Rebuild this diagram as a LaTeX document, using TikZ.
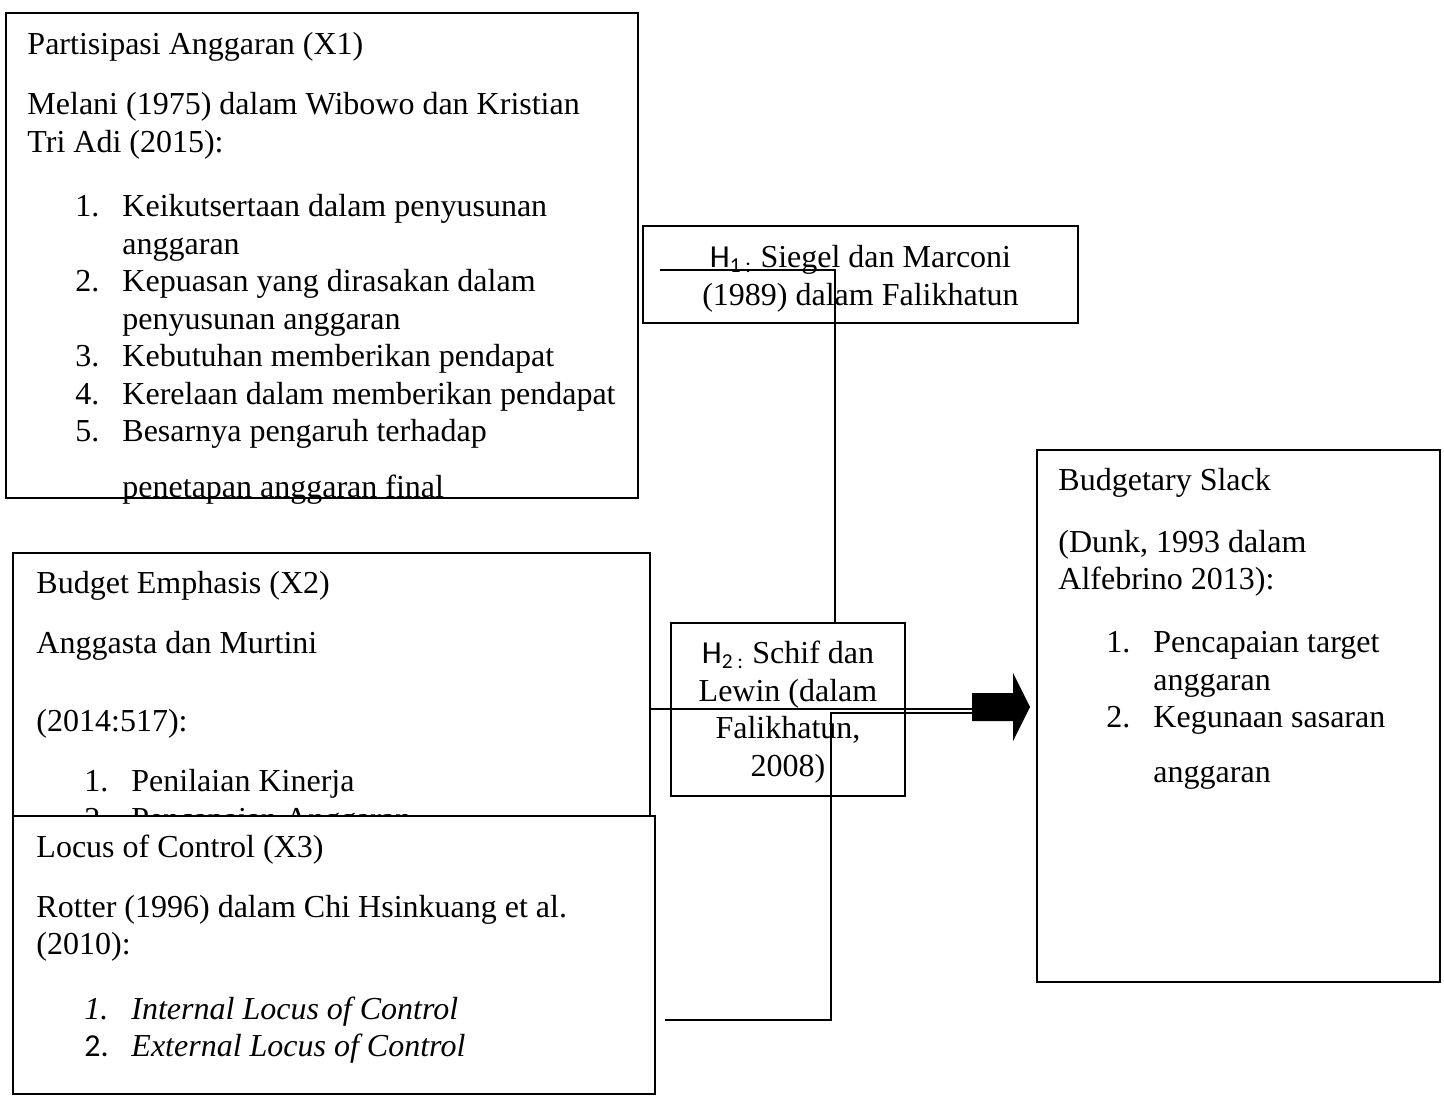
\documentclass[tikz,border=0pt]{standalone}
\usepackage{fontspec}
\setmainfont{Liberation Serif}
\newfontfamily\calibrifont{Carlito}
\usetikzlibrary{fit,positioning}
\newcommand{\numitem}[2]{\hspace*{18pt}\makebox[17.625pt][l]{#1}#2}
\newcommand{\contline}[1]{\hspace*{35.625pt}#1}
\begin{document}
\begin{tikzpicture}[x=0.375pt, y=-0.375pt,
  box/.style={draw, line width=0.8pt, inner sep=0pt, fill=white},
  txt/.style={inner sep=0pt, text width=250pt, align=flush left, font=\fontsize{12}{14.06}\selectfont},
  hyp/.style={inner sep=0pt, align=flush center, font=\fontsize{12}{14.06}\selectfont},
  conn/.style={line width=0.5pt}]
\useasboundingbox (0,0) rectangle (1444,1097);

% variabel X1
\node[box, fit={(6,13) (638,498)}] (x1box) {};
\node[txt, anchor=base west] (x1text) at ([shift={(22,43)}]x1box.north west)
  {Partisipasi Anggaran (X1)\\[8.4pt]
   Melani (1975) dalam Wibowo dan Kristian\\
   Tri Adi (2015):\\[10.1pt]
   \numitem{1.}{Keikutsertaan dalam penyusunan}\\
   \contline{anggaran}\\
   \numitem{2.}{Kepuasan yang dirasakan dalam}\\
   \contline{penyusunan anggaran}\\
   \numitem{3.}{Kebutuhan memberikan pendapat}\\
   \numitem{4.}{Kerelaan dalam memberikan pendapat}\\
   \numitem{5.}{Besarnya pengaruh terhadap}\\[6.9pt]
   \contline{penetapan anggaran final}};

% variabel X2
\node[box, fit={(13,553) (650,900)}] (x2box) {};
\node[txt, anchor=base west] (x2text) at ([shift={(24,42)}]x2box.north west)
  {Budget Emphasis (X2)\\[8.25pt]
   Anggasta dan Murtini\\[15.2pt]
   (2014:517):\\[8.6pt]
   \numitem{1.}{Penilaian Kinerja}\\
   \numitem{2.}{Pencapaian Anggaran}};

% variabel X3
\node[box, fit={(13,816) (655,1094)}] (x3box) {};
\node[txt, anchor=base west] (x3text) at ([shift={(24,43)}]x3box.north west)
  {Locus of Control (X3)\\[8.25pt]
   Rotter (1996) dalam Chi Hsinkuang et al.\\
   (2010):\\[10.1pt]
   \numitem{\textit{1.}}{\textit{Internal Locus of Control}}\\
   \numitem{{\calibrifont 2.}}{\textit{External Locus of Control}}};

% variabel Y
\node[box, fit={(1037,450) (1440,982)}] (ybox) {};
\node[txt, anchor=base west] (ytext) at ([shift={(22,42)}]ybox.north west)
  {Budgetary Slack\\[9pt]
   (Dunk, 1993 dalam\\
   Alfebrino 2013):\\[9.5pt]
   \numitem{1.}{Pencapaian target}\\
   \contline{anggaran}\\
   \numitem{2.}{Kegunaan sasaran}\\[6.6pt]
   \contline{anggaran}};

% hipotesis
\node[box, fill=none, fit={(643,226) (1078,323)}] (h1box) {};
\node[hyp, text width=163pt, anchor=base] (h1text) at ([shift={(0,43)}]h1box.north)
  {{\calibrifont H\textsubscript{1 :}} Siegel dan Marconi\\
   (1989) dalam Falikhatun};

\node[box, fill=none, fit={(671,623) (905,796)}] (h2box) {};
\node[hyp, text width=87.75pt, anchor=base] (h2text) at ([shift={(0,42)}]h2box.north)
  {{\calibrifont H\textsubscript{2 :}} Schif dan\\
   Lewin (dalam\\
   Falikhatun,\\
   2008)};

% panah
\coordinate (tailA) at (972,709);
\coordinate (tailB) at (972,713);
\fill (972,707) ++(0,-14) -- ++(41,0) -- ++(0,-20) -- ++(17,34) -- ++(-17,34)
  -- ++(0,-20) -- ++(-41,0) -- cycle;

% garis
\coordinate (h1in) at (660,270);
\coordinate (h1turn) at (835,270);
\draw[conn] (h1in) -- (h1turn) -- (h1turn |- h2box.north);
\draw[conn] (x2box.east |- tailA) -- (tailA);
\coordinate (x3out) at (665,1020);
\coordinate (x3turn) at (831,1020);
\draw[conn] (x3out) -- (x3turn) |- (tailB);

\end{tikzpicture}
\end{document}
